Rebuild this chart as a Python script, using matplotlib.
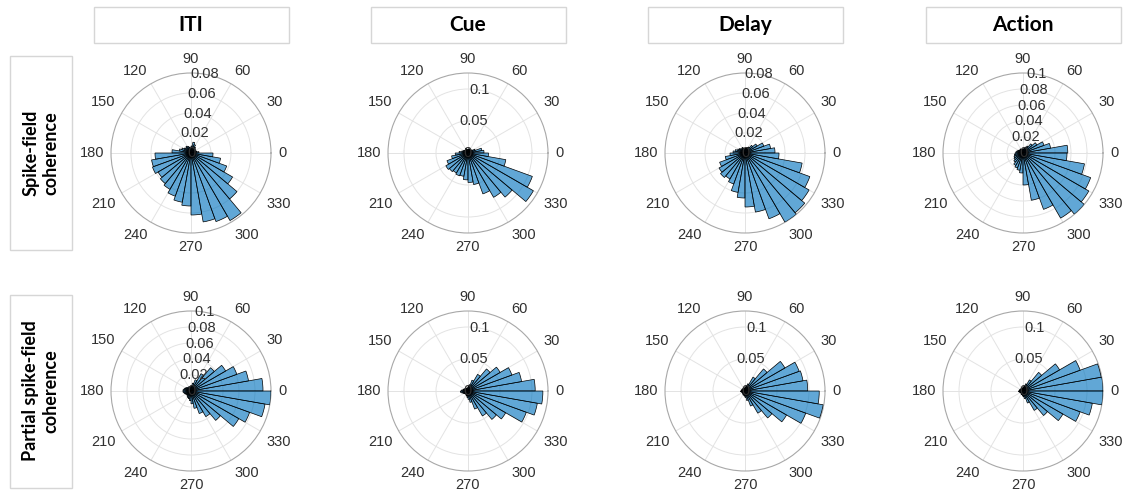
import matplotlib
matplotlib.use("Agg")
import matplotlib.pyplot as plt
import numpy as np
from matplotlib.patches import Rectangle

# phase bins (10 deg wide, left edges 0..350)
bin_edges_deg = np.arange(0, 360, 10)

epochs = ['ITI', 'Cue', 'Delay', 'Action']
row_labels = ['Spike-field\ncoherence', 'Partial spike-field\ncoherence']

# spike-field coherence, fraction per phase bin
sfc_iti = [0.008, 0.006, 0.005, 0.005, 0.006, 0.007, 0.009, 0.011, 0.007, 0.005,
           0.006, 0.007, 0.008, 0.007, 0.008, 0.010, 0.012, 0.019,
           0.036, 0.040, 0.041, 0.038, 0.040, 0.042, 0.046, 0.050, 0.053,
           0.062, 0.070, 0.073, 0.078, 0.060, 0.048, 0.038, 0.030, 0.022]
sfc_cue = [0.025, 0.022, 0.012, 0.008, 0.006, 0.005, 0.006, 0.007, 0.006, 0.005,
           0.006, 0.008, 0.006, 0.005, 0.007, 0.008, 0.010, 0.014,
           0.020, 0.026, 0.035, 0.040, 0.038, 0.036, 0.038, 0.037, 0.042,
           0.046, 0.050, 0.068, 0.080, 0.090, 0.118, 0.107, 0.060, 0.032]
sfc_delay = [0.030, 0.026, 0.020, 0.014, 0.010, 0.007, 0.006, 0.005, 0.005, 0.004,
             0.005, 0.006, 0.005, 0.006, 0.007, 0.008, 0.010, 0.012,
             0.015, 0.020, 0.027, 0.030, 0.032, 0.030, 0.033, 0.040, 0.045,
             0.054, 0.060, 0.070, 0.080, 0.078, 0.074, 0.069, 0.058, 0.034]
sfc_action = [0.056, 0.035, 0.028, 0.020, 0.015, 0.010, 0.008, 0.006, 0.005, 0.005,
              0.004, 0.005, 0.006, 0.005, 0.006, 0.007, 0.008, 0.009,
              0.010, 0.011, 0.012, 0.013, 0.015, 0.018, 0.020, 0.022, 0.025,
              0.040, 0.060, 0.075, 0.094, 0.100, 0.095, 0.090, 0.078, 0.055]

# partial spike-field coherence
psfc_iti = [0.090, 0.073, 0.061, 0.050, 0.038, 0.025, 0.015, 0.010, 0.007, 0.006,
            0.005, 0.006, 0.005, 0.006, 0.007, 0.008, 0.009, 0.010,
            0.010, 0.009, 0.008, 0.007, 0.007, 0.008, 0.009, 0.010, 0.012,
            0.016, 0.022, 0.030, 0.037, 0.048, 0.069, 0.078, 0.094, 0.100]
psfc_cue = [0.105, 0.085, 0.073, 0.058, 0.045, 0.030, 0.018, 0.010, 0.007, 0.005,
            0.005, 0.004, 0.005, 0.005, 0.006, 0.007, 0.008, 0.010,
            0.012, 0.010, 0.008, 0.007, 0.006, 0.006, 0.007, 0.008, 0.010,
            0.013, 0.018, 0.030, 0.045, 0.058, 0.068, 0.097, 0.110, 0.117]
psfc_delay = [0.098, 0.092, 0.090, 0.072, 0.045, 0.025, 0.012, 0.008, 0.006, 0.005,
              0.004, 0.004, 0.005, 0.005, 0.004, 0.005, 0.006, 0.006,
              0.007, 0.006, 0.005, 0.005, 0.005, 0.006, 0.006, 0.007, 0.008,
              0.010, 0.015, 0.025, 0.040, 0.055, 0.075, 0.101, 0.124, 0.116]
psfc_action = [0.125, 0.124, 0.095, 0.066, 0.038, 0.020, 0.012, 0.008, 0.006, 0.005,
               0.004, 0.004, 0.005, 0.004, 0.005, 0.005, 0.006, 0.006,
               0.007, 0.006, 0.005, 0.005, 0.004, 0.005, 0.006, 0.006, 0.007,
               0.009, 0.012, 0.020, 0.035, 0.050, 0.072, 0.095, 0.110, 0.125]

# radial limits and tick values per panel
rmax_sfc = [0.08, 0.125, 0.08, 0.1]
rmax_psfc = [0.1, 0.125, 0.125, 0.125]
rticks_sfc = [[0, 0.02, 0.04, 0.06, 0.08], [0, 0.05, 0.1],
              [0, 0.02, 0.04, 0.06, 0.08], [0, 0.02, 0.04, 0.06, 0.08, 0.1]]
rticks_psfc = [[0, 0.02, 0.04, 0.06, 0.08, 0.1], [0, 0.05, 0.1],
               [0, 0.05, 0.1], [0, 0.05, 0.1]]

data = [[sfc_iti, sfc_cue, sfc_delay, sfc_action],
        [psfc_iti, psfc_cue, psfc_delay, psfc_action]]
rmaxes = [rmax_sfc, rmax_psfc]
rticks = [rticks_sfc, rticks_psfc]

W, H = 1124, 495
fig = plt.figure(figsize=(W / 100, H / 100), dpi=100)
fig.patch.set_facecolor('white')

tick_font = 'Liberation Sans'
head_font = 'Lato'
txt_col = '#303030'
face = (0.0, 0.447, 0.741, 0.62)

col_x = [191, 468, 745, 1023]
row_y = [153, 391]
rad = 80  # polar radius in pixels


def polar_panel(cx, cy, vals, rmax, ticks):
    ax = fig.add_axes([(cx - rad) / W, (H - cy - rad) / H, 2 * rad / W, 2 * rad / H],
                      projection='polar')
    ax.set_theta_zero_location('E')
    ax.bar(np.deg2rad(bin_edges_deg), vals, width=np.deg2rad(10), align='edge',
           color=face, edgecolor='black', linewidth=0.5, zorder=3)
    ax.set_ylim(0, rmax)
    ax.set_xticks(np.deg2rad(np.arange(0, 360, 30)))
    ax.set_xticklabels([])
    ax.set_yticks([t for t in ticks if 0 < t < rmax - 1e-9])
    ax.set_yticklabels([])
    ax.tick_params(length=0, pad=0)
    ax.grid(True, color='#e3e3e3', linewidth=0.7)
    ax.set_axisbelow(True)
    ax.spines['polar'].set_edgecolor('#a8a8a8')
    ax.spines['polar'].set_linewidth(0.8)

    # angle labels just outside the rim
    r_lab = rmax * (1 + 7 / rad)
    for a in range(0, 360, 30):
        c, s = np.cos(np.deg2rad(a)), np.sin(np.deg2rad(a))
        ha = 'left' if c > 0.3 else ('right' if c < -0.3 else 'center')
        va = 'bottom' if s > 0.3 else ('top' if s < -0.3 else 'center')
        ax.text(np.deg2rad(a), r_lab, str(a), ha=ha, va=va, fontsize=10.5,
                family=tick_font, color=txt_col, clip_on=False)

    # radial labels along 80 degrees
    for t in ticks:
        ax.text(np.deg2rad(80), t, f'{t:g}', ha='center', va='center', fontsize=10.5,
                family=tick_font, color=txt_col, zorder=6, clip_on=False)
    return ax


for i in range(2):
    for j in range(4):
        polar_panel(col_x[j], row_y[i], data[i][j], rmaxes[i][j], rticks[i][j])

# column headers
for j, name in enumerate(epochs):
    x0, y0, bw, bh = col_x[j] - 97, 7, 195, 36
    fig.patches.append(Rectangle((x0 / W, 1 - (y0 + bh) / H), bw / W, bh / H,
                                 transform=fig.transFigure, facecolor='white',
                                 edgecolor='#d6d6d6', linewidth=1))
    fig.text(col_x[j] / W, 1 - (y0 + bh / 2) / H, name, ha='center', va='center',
             fontsize=15, fontweight='bold', family=head_font, color='black')

# row labels
for i, lab in enumerate(row_labels):
    x0, bw, bh = 10, 62, 193
    y0 = row_y[i] - bh / 2
    fig.patches.append(Rectangle((x0 / W, 1 - (y0 + bh) / H), bw / W, bh / H,
                                 transform=fig.transFigure, facecolor='white',
                                 edgecolor='#d6d6d6', linewidth=1))
    fig.text((x0 + bw / 2) / W, 1 - row_y[i] / H, lab, ha='center', va='center',
             rotation=90, fontsize=13, fontweight='bold', family=head_font,
             multialignment='center', linespacing=1.25, color='black')

fig.savefig('out.png', dpi=100)
